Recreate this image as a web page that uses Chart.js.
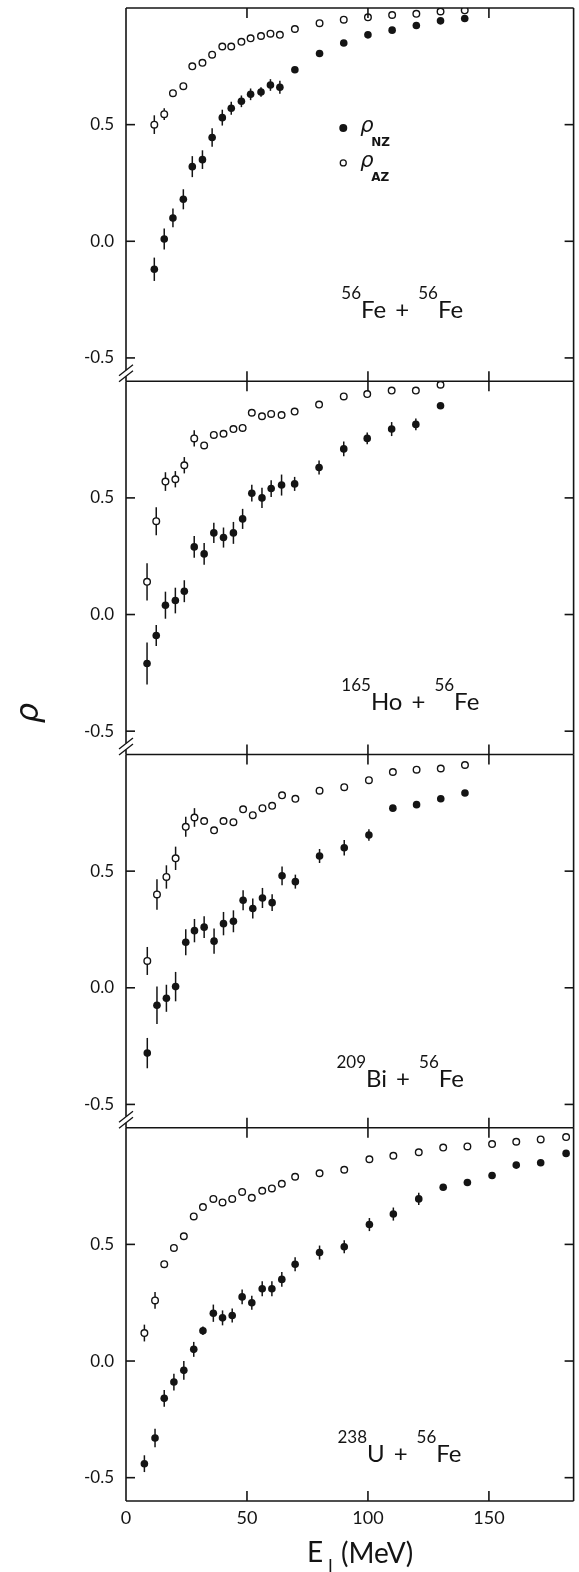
<!DOCTYPE html>
<html>
<head>
<meta charset="utf-8">
<title>rho vs E_I</title>
<script src="https://cdn.jsdelivr.net/npm/chart.js@4.4.1/dist/chart.umd.min.js"></script>
<style>
  html, body { margin: 0; padding: 0; background: #fff; }
  #wrap { position: relative; width: 579px; height: 1572px; }
</style>
</head>
<body>
<div id="wrap"><canvas id="rhoChart"></canvas></div>
<script>
// ---- data: energy loss E_I (MeV), rho_NZ (filled) and rho_AZ (open) ----
const xTicks = [0, 50, 100, 150];
const yTicks = [-0.5, 0, 0.5];

// 56Fe + 56Fe
const eFeFe = [11.7, 15.8, 19.4, 23.7, 27.4, 31.6, 35.6, 39.8, 43.5, 47.7, 51.5, 55.8, 59.7, 63.6, 69.8, 80, 90, 100, 110, 120, 130, 140];
const nzFeFe = [-0.12, 0.01, 0.10, 0.18, 0.32, 0.35, 0.445, 0.53, 0.57, 0.60, 0.63, 0.64, 0.67, 0.66, 0.735, 0.805, 0.85, 0.885, 0.905, 0.925, 0.945, 0.955];
const nzErrFeFe = [0.05, 0.045, 0.04, 0.043, 0.045, 0.04, 0.04, 0.034, 0.028, 0.025, 0.025, 0.02, 0.025, 0.028, 0, 0, 0, 0, 0, 0, 0, 0];
const azFeFe = [0.50, 0.545, 0.635, 0.665, 0.75, 0.765, 0.80, 0.835, 0.835, 0.855, 0.87, 0.88, 0.89, 0.885, 0.91, 0.935, 0.95, 0.96, 0.97, 0.975, 0.985, 0.99];
const azErrFeFe = [0.04, 0.025, 0, 0, 0, 0, 0, 0, 0, 0, 0, 0, 0, 0, 0, 0, 0, 0, 0, 0, 0, 0];

// 165Ho + 56Fe
const eHoFe = [8.7, 12.5, 16.3, 20.4, 24.1, 28.2, 32.3, 36.3, 40.3, 44.4, 48.2, 52.0, 56.2, 60.0, 64.3, 69.7, 79.8, 90, 99.7, 109.8, 119.8, 130];
const nzHoFe = [-0.21, -0.09, 0.04, 0.06, 0.10, 0.29, 0.26, 0.35, 0.33, 0.35, 0.41, 0.52, 0.50, 0.54, 0.555, 0.56, 0.63, 0.71, 0.755, 0.795, 0.815, 0.895];
const nzErrHoFe = [0.09, 0.045, 0.058, 0.055, 0.047, 0.047, 0.047, 0.043, 0.043, 0.047, 0.043, 0.036, 0.043, 0.036, 0.045, 0.03, 0.03, 0.032, 0.025, 0.03, 0.025, 0];
const azHoFe = [0.14, 0.40, 0.57, 0.58, 0.64, 0.755, 0.725, 0.77, 0.775, 0.795, 0.80, 0.865, 0.85, 0.86, 0.855, 0.87, 0.90, 0.935, 0.945, 0.96, 0.96, 0.985];
const azErrHoFe = [0.08, 0.06, 0.04, 0.035, 0.035, 0.035, 0, 0, 0, 0, 0, 0, 0, 0, 0, 0, 0, 0, 0, 0, 0, 0];

// 209Bi + 56Fe
const eBiFe = [8.8, 12.8, 16.7, 20.5, 24.7, 28.3, 32.3, 36.4, 40.3, 44.4, 48.4, 52.4, 56.4, 60.4, 64.5, 70, 80, 90.2, 100.4, 110.3, 120.1, 130.1, 140.1];
const nzBiFe = [-0.28, -0.075, -0.045, 0.005, 0.195, 0.245, 0.26, 0.20, 0.275, 0.285, 0.375, 0.34, 0.385, 0.365, 0.48, 0.455, 0.565, 0.60, 0.655, 0.77, 0.785, 0.81, 0.835];
const nzErrBiFe = [0.065, 0.08, 0.058, 0.063, 0.056, 0.05, 0.047, 0.054, 0.05, 0.047, 0.043, 0.043, 0.043, 0.036, 0.04, 0.03, 0.03, 0.033, 0.025, 0, 0, 0, 0];
const azBiFe = [0.115, 0.40, 0.475, 0.555, 0.69, 0.73, 0.715, 0.675, 0.715, 0.71, 0.765, 0.74, 0.77, 0.78, 0.825, 0.81, 0.845, 0.86, 0.89, 0.925, 0.935, 0.94, 0.955];
const azErrBiFe = [0.06, 0.065, 0.05, 0.05, 0.043, 0.04, 0, 0, 0, 0, 0, 0, 0, 0, 0, 0, 0, 0, 0, 0, 0, 0, 0];

// 238U + 56Fe
const eUFe = [7.6, 12.0, 15.8, 19.8, 23.9, 28.0, 31.8, 36.1, 39.9, 43.9, 48.0, 52.0, 56.3, 60.3, 64.4, 69.9, 80, 90.2, 100.6, 110.5, 121, 131.1, 141.1, 151.3, 161.3, 171.4, 181.9];
const nzUFe = [-0.44, -0.33, -0.16, -0.09, -0.04, 0.05, 0.13, 0.205, 0.185, 0.195, 0.275, 0.25, 0.31, 0.31, 0.35, 0.415, 0.465, 0.49, 0.585, 0.63, 0.695, 0.745, 0.765, 0.795, 0.84, 0.85, 0.89];
const nzErrUFe = [0.036, 0.04, 0.036, 0.036, 0.04, 0.032, 0.018, 0.037, 0.032, 0.03, 0.032, 0.03, 0.032, 0.032, 0.032, 0.03, 0.03, 0.028, 0.028, 0.028, 0.026, 0, 0, 0, 0, 0, 0];
const azUFe = [0.12, 0.26, 0.415, 0.485, 0.535, 0.62, 0.66, 0.695, 0.68, 0.695, 0.725, 0.70, 0.73, 0.74, 0.76, 0.79, 0.805, 0.82, 0.865, 0.88, 0.895, 0.915, 0.92, 0.93, 0.94, 0.95, 0.96];
const azErrUFe = [0.036, 0.036, 0, 0, 0, 0, 0, 0, 0, 0, 0, 0, 0, 0, 0, 0, 0, 0, 0, 0, 0, 0, 0, 0, 0, 0, 0];

const INK = '#141414';
const FONT = 'Lato, "DejaVu Sans", sans-serif';

// one y axis per panel, stacked top to bottom
const panels = [
  { id: 'y1', e: eFeFe, nz: nzFeFe, nzErr: nzErrFeFe, az: azFeFe, azErr: azErrFeFe,
    label: [['56', 'Fe'], ['56', 'Fe']], at: [89, -0.33] },
  { id: 'y2', e: eHoFe, nz: nzHoFe, nzErr: nzErrHoFe, az: azHoFe, azErr: azErrHoFe,
    label: [['165', 'Ho'], ['56', 'Fe']], at: [89, -0.41] },
  { id: 'y3', e: eBiFe, nz: nzBiFe, nzErr: nzErrBiFe, az: azBiFe, azErr: azErrBiFe,
    label: [['209', 'Bi'], ['56', 'Fe']], at: [87, -0.425] },
  { id: 'y4', e: eUFe, nz: nzUFe, nzErr: nzErrUFe, az: azUFe, azErr: azErrUFe,
    label: [['238', 'U'], ['56', 'Fe']], at: [87.4, -0.433] }
];

function toPoints(xs, ys) {
  return xs.map(function(x, i) { return { x: x, y: ys[i] }; });
}

const datasets = [];
panels.forEach(function(p) {
  // filled circles: rho_NZ
  datasets.push({
    label: 'rho_NZ ' + p.id, yAxisID: p.id, data: toPoints(p.e, p.nz), err: p.nzErr,
    pointRadius: 3.8, pointBackgroundColor: INK, pointBorderWidth: 0, showLine: false
  });
  // open circles: rho_AZ
  datasets.push({
    label: 'rho_AZ ' + p.id, yAxisID: p.id, data: toPoints(p.e, p.az), err: p.azErr,
    pointRadius: 3.3, pointBackgroundColor: '#fff', pointBorderColor: INK, pointBorderWidth: 1.4, showLine: false
  });
});

function line(ctx, x1, y1, x2, y2) {
  ctx.beginPath();
  ctx.moveTo(x1, y1);
  ctx.lineTo(x2, y2);
  ctx.stroke();
}

// label like "56Fe + 56Fe" with raised mass numbers
function drawReaction(ctx, parts, x, y) {
  ctx.textBaseline = 'alphabetic';
  ctx.textAlign = 'left';
  parts.forEach(function(part, k) {
    if (k > 0) {
      ctx.font = '24px ' + FONT;
      x += 9;
      ctx.fillText('+', x, y);
      x += ctx.measureText('+').width + 9;
    }
    ctx.font = '17px ' + FONT;
    ctx.fillText(part[0], x, y - 19);
    x += ctx.measureText(part[0]).width;
    ctx.font = '24px ' + FONT;
    ctx.fillText(part[1], x, y);
    x += ctx.measureText(part[1]).width;
  });
}

const panelDecor = {
  id: 'panelDecor',
  // error bars go under the markers
  beforeDatasetsDraw(chart) {
    const ctx = chart.ctx;
    const xs = chart.scales.x;
    ctx.save();
    ctx.strokeStyle = INK;
    ctx.lineWidth = 1.5;
    chart.data.datasets.forEach(function(ds) {
      const ys = chart.scales[ds.yAxisID];
      ds.data.forEach(function(pt, j) {
        const e = ds.err[j];
        if (!e) return;
        const px = xs.getPixelForValue(pt.x);
        line(ctx, px, ys.getPixelForValue(pt.y - e), px, ys.getPixelForValue(pt.y + e));
      });
    });
    ctx.restore();
  },
  // frames, inward ticks and axis breaks
  afterDatasetsDraw(chart) {
    const ctx = chart.ctx;
    const xs = chart.scales.x;
    const L = chart.chartArea.left, R = chart.chartArea.right;
    ctx.save();
    ctx.strokeStyle = INK;
    ctx.lineWidth = 1.6;
    panels.forEach(function(p, k) {
      const s = chart.scales[p.id];
      const top = s.top, bot = s.bottom;
      const last = k === panels.length - 1;
      line(ctx, L, top, R, top);
      if (last) line(ctx, L, bot, R, bot);
      line(ctx, R, top, R, bot);
      if (last) {
        line(ctx, L, top, L, bot);
      } else {
        line(ctx, L, top, L, bot - 11);
        line(ctx, L, bot - 5, L, bot);
        ctx.lineWidth = 1.3;
        line(ctx, L - 7, bot - 11 + 5.5, L + 7, bot - 11 - 5.5);
        line(ctx, L - 7, bot - 5 + 5.5, L + 7, bot - 5 - 5.5);
        ctx.lineWidth = 1.6;
      }
      yTicks.forEach(function(v) {
        const py = s.getPixelForValue(v);
        line(ctx, L, py, L + 9, py);
        line(ctx, R - 9, py, R, py);
      });
      xTicks.forEach(function(v) {
        if (v === 0) return;
        const px = xs.getPixelForValue(v);
        line(ctx, px, top, px, top + 10);
        line(ctx, px, bot - 10, px, bot);
      });
    });
    ctx.restore();
  },
  // reaction labels, legend and axis titles
  afterDraw(chart) {
    const ctx = chart.ctx;
    const xs = chart.scales.x;
    ctx.save();
    ctx.fillStyle = INK;
    ctx.strokeStyle = INK;

    panels.forEach(function(p) {
      const s = chart.scales[p.id];
      drawReaction(ctx, p.label, xs.getPixelForValue(p.at[0]), s.getPixelForValue(p.at[1]));
    });

    // legend in the top panel
    const y1 = chart.scales.y1;
    const lx = xs.getPixelForValue(89.8);
    const rows = [
      { y: y1.getPixelForValue(0.486), sub: 'NZ', filled: true },
      { y: y1.getPixelForValue(0.336), sub: 'AZ', filled: false }
    ];
    rows.forEach(function(r) {
      ctx.beginPath();
      if (r.filled) {
        ctx.arc(lx, r.y, 4, 0, Math.PI * 2);
        ctx.fill();
      } else {
        ctx.lineWidth = 1.3;
        ctx.arc(lx, r.y, 3, 0, Math.PI * 2);
        ctx.stroke();
      }
      ctx.textAlign = 'left';
      ctx.textBaseline = 'alphabetic';
      ctx.font = 'italic 21px "DejaVu Sans", sans-serif';
      ctx.fillText('ρ', lx + 17, r.y + 4);
      ctx.font = 'bold 12px "DejaVu Sans", sans-serif';
      ctx.fillText(r.sub, lx + 28, r.y + 18);
    });

    // y title
    ctx.save();
    ctx.translate(30, 713);
    ctx.rotate(-Math.PI / 2);
    ctx.textAlign = 'center';
    ctx.textBaseline = 'middle';
    ctx.font = 'italic 32px "DejaVu Sans", sans-serif';
    ctx.fillText('ρ', 0, 0);
    ctx.restore();

    // x title: E_I (MeV)
    ctx.textAlign = 'left';
    ctx.textBaseline = 'alphabetic';
    ctx.font = '28px ' + FONT;
    ctx.fillText('E', 307, 1562);
    ctx.font = '17px ' + FONT;
    ctx.fillText('I', 328, 1572);
    ctx.font = '28px ' + FONT;
    ctx.fillText('(MeV)', 341, 1563);
    ctx.restore();
  }
};

function yScale(weight) {
  return {
    type: 'linear',
    position: 'left',
    stack: 'panels',
    stackWeight: 1,
    weight: weight,
    min: -0.6,
    max: 1.0,
    afterBuildTicks: function(s) { s.ticks = yTicks.map(function(v) { return { value: v }; }); },
    // fixed axis width, no extra room for the end labels
    afterFit: function(s) { s.width = 126; s.paddingTop = 0; s.paddingBottom = 0; },
    grid: { display: false, drawTicks: false },
    border: { display: false },
    ticks: {
      padding: 12,
      color: INK,
      font: { family: FONT, size: 17 },
      callback: function(v) { return v.toFixed(1); }
    }
  };
}

document.addEventListener('DOMContentLoaded', function() {
  const ctx = document.getElementById('rhoChart').getContext('2d');
  new Chart(ctx, {
    type: 'scatter',
    data: { datasets: datasets },
    options: {
      responsive: true,
      maintainAspectRatio: false,
      animation: false,
      layout: { padding: { top: 8, right: 2, left: 0, bottom: 0 } },
      plugins: {
        legend: { display: false },
        tooltip: { enabled: false }
      },
      scales: {
        x: {
          type: 'linear',
          position: 'bottom',
          min: 0,
          max: 185,
          afterBuildTicks: function(s) { s.ticks = xTicks.map(function(v) { return { value: v }; }); },
          afterFit: function(s) { s.height = 71; s.paddingLeft = 0; s.paddingRight = 0; },
          grid: { display: false, drawTicks: false },
          border: { display: false },
          ticks: {
            padding: 6,
            maxRotation: 0,
            autoSkip: false,
            color: INK,
            font: { family: FONT, size: 18 }
          }
        },
        y1: yScale(4),
        y2: yScale(3),
        y3: yScale(2),
        y4: yScale(1)
      }
    },
    plugins: [panelDecor]
  });
});
</script>
</body>
</html>
